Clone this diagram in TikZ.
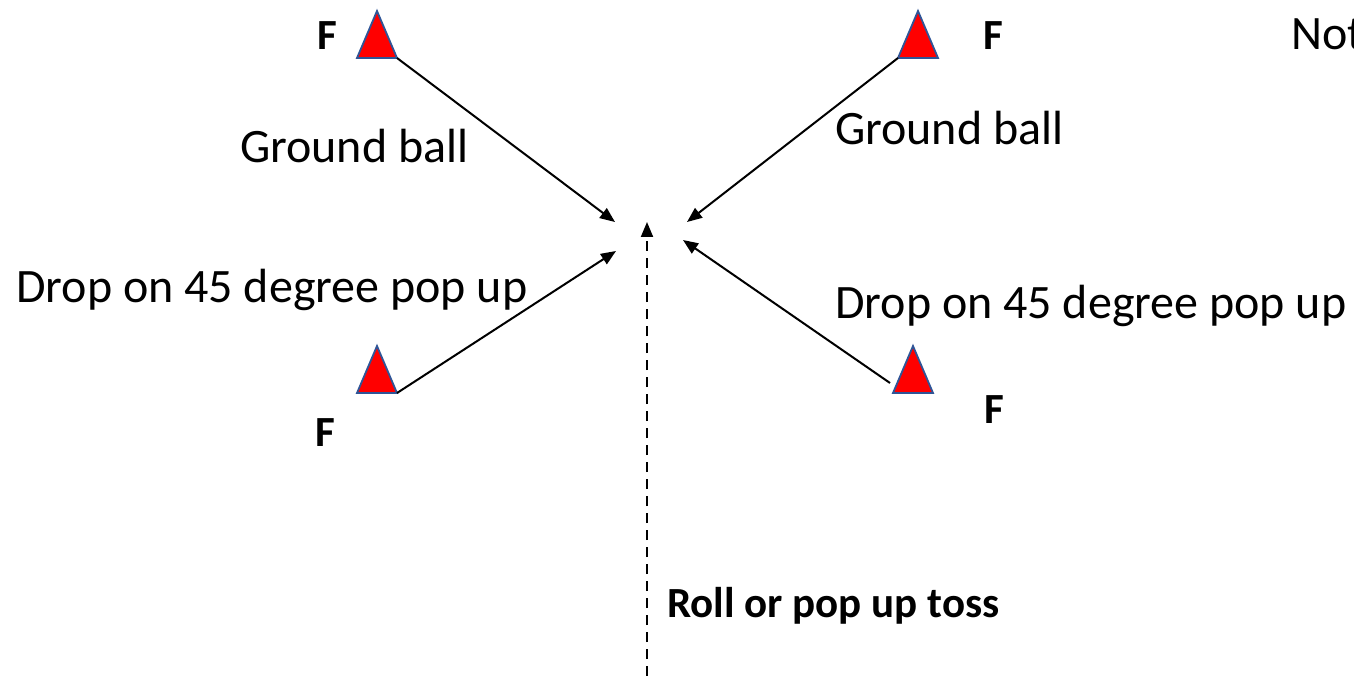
\documentclass[tikz,border=0pt]{standalone}
\usepackage{fontspec}
\setmainfont{Carlito}
\usetikzlibrary{arrows.meta}
\definecolor{triborder}{HTML}{2F5597}
\tikzset{
  tri/.style={fill=red, draw=triborder, line width=1.8pt, line join=miter},
  arr/.style={draw=black, line width=2pt, -{Triangle[length=15pt,width=12pt]}},
  darr/.style={arr, dash pattern=on 10pt off 7pt},
  lbl/.style={inner sep=0pt, anchor=base west, font=\fontsize{48}{56}\selectfont},
  blbl/.style={lbl, font=\fontsize{43}{50}\selectfont\bfseries},
}
\begin{document}
\begin{tikzpicture}[x=1pt,y=-1pt]
\useasboundingbox (0,0) rectangle (1354,676);
\clip (0,0) rectangle (1354,676);
% triangle corners
\coordinate (t1a) at (377,11); \coordinate (t1l) at (357,58); \coordinate (t1r) at (397,58);
\coordinate (t2a) at (918,11); \coordinate (t2l) at (898,58); \coordinate (t2r) at (938,58);
\coordinate (t3a) at (377,346); \coordinate (t3l) at (357,393); \coordinate (t3r) at (397,393);
\coordinate (t4a) at (913,346); \coordinate (t4l) at (893,393); \coordinate (t4r) at (933,393);
\draw[tri] (t1a) -- (t1l) -- (t1r) -- cycle;
\draw[tri] (t2a) -- (t2l) -- (t2r) -- cycle;
\draw[tri] (t3a) -- (t3l) -- (t3r) -- cycle;
\draw[tri] (t4a) -- (t4l) -- (t4r) -- cycle;
% targets
\coordinate (c1) at (615,222);
\coordinate (c2) at (687,222);
\coordinate (c3) at (616,251);
\coordinate (c4) at (683,240);
\coordinate (c5) at (647,222);
\coordinate (s4) at (890,383);
\coordinate (s5) at (647,676);
\draw[arr] (t1r) -- (c1);
\draw[arr] (t2l) -- (c2);
\draw[arr] (t3r) -- (c3);
\draw[arr] (s4) -- (c4);
\draw[darr] (s5) -- (c5);
% labels
\node[blbl] (f1) at (317,50) {F};
\node[blbl] (f2) at (983,50) {F};
\node[blbl] (f3) at (315,446) {F};
\node[blbl] (f4) at (984,423) {F};
\node[lbl] (g1) at (240,163) {Ground ball};
\node[lbl] (g2) at (835,145) {Ground ball};
\node[lbl] (d1) at (16,302) {Drop on 45 degree pop up};
\node[lbl] (d2) at (835,318) {Drop on 45 degree pop up};
\node[lbl] (n) at (1291,50) {Not};
\node[blbl] (r) at (667,617) {Roll or pop up toss};
\end{tikzpicture}
\end{document}
